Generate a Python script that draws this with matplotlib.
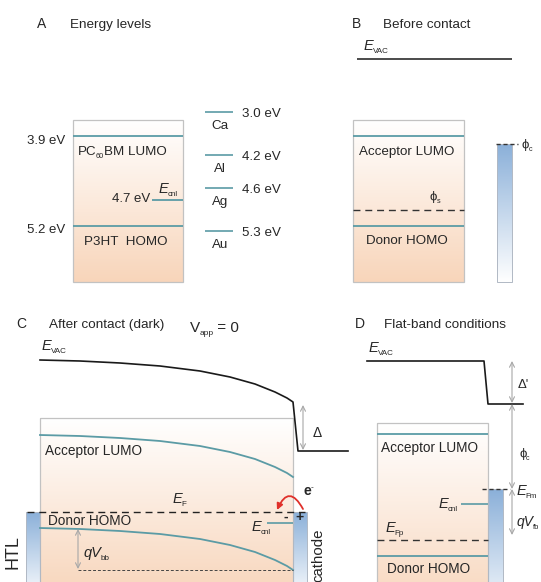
import numpy as np
import matplotlib.pyplot as plt
from matplotlib.patches import Rectangle, FancyArrowPatch
from matplotlib.colors import to_rgb

plt.rcParams['font.family'] = ['Liberation Sans', 'DejaVu Sans']

# ---- data ----
letters = ['A', 'B', 'C', 'D']
titles = ['Energy levels', 'Before contact', 'After contact (dark)', 'Flat-band conditions']
organic_E = [3.9, 5.2]            # PC60BM LUMO, P3HT HOMO (eV)
cnl_E = 4.7                       # charge neutrality level (eV)
metal_names = ['Ca', 'Al', 'Ag', 'Au']
metal_E = [3.0, 4.2, 4.6, 5.3]    # work functions (eV)
# band bending in panel C: distance from left of blend, downward shift (px)
bend_x = [0, 40, 80, 120, 160, 190, 215, 235, 247, 253]
bend_dy = [0, 1, 3, 6, 11, 17, 24, 32, 38, 42]

W, H = 541, 582
TEAL = '#5b9ba5'
PEACH = '#f8d5ba'
BLUE = '#8bb0d9'
EDGE = '#c2c2c2'
GREY = '#a8a8a8'
TXT = '#262626'
RED = '#e0302a'

fig = plt.figure(figsize=(W / 100, H / 100), dpi=100)
ax = fig.add_axes([0, 0, 1, 1])
ax.axis('off')
R = fig.canvas.get_renderer()


def ey(E):
    # schematic (not to scale) energy axis of panel A
    return np.interp(E, [3.0, 3.9, 4.2, 4.6, 4.7, 5.2, 5.3],
                     [112, 136, 155, 188, 200, 226, 231])


def grad(x0, x1, y0, y1, top, bot, edge=EDGE, lw=0.9):
    c = np.linspace(0, 1, 256)[:, None]
    a = np.array(to_rgb(top))
    b = np.array(to_rgb(bot))
    img = (a + (b - a) * c)[:, None, :]
    ax.imshow(img, extent=(x0, x1, y1, y0), aspect='auto',
              interpolation='bilinear', zorder=1)
    ax.add_patch(Rectangle((x0, y0), x1 - x0, y1 - y0, fill=False,
                           ec=edge, lw=lw, zorder=2))


def rich(x, y, parts, size=9.6, ha='left'):
    # parts: (text, kind) kind n=normal i=italic s=subscript p=superscript b=bold
    items = []
    for s, k in parts:
        kw = dict(fontsize=size, color=TXT, va='baseline')
        dy = 0
        gap = 0
        if k == 'i':
            kw['style'] = 'italic'
        if k == 'b':
            kw['weight'] = 'bold'
        if k == 's':
            kw['fontsize'] = size * 0.55
            dy = 3
            gap = -1
        if k == 'p':
            kw['fontsize'] = size * 0.6
            dy = -6
        t = ax.text(0, 0, s, zorder=6, **kw)
        items.append((t, dy, t.get_window_extent(R).width, gap))
    total = sum(w + g for _, _, w, g in items)
    cx = x - total if ha == 'right' else x
    for t, dy, w, g in items:
        cx += g
        t.set_position((cx, y + dy))
        cx += w


def hline(x0, x1, y, **kw):
    ax.plot([x0, x1], [y, y], solid_capstyle='butt', zorder=4, **kw)


def darrow(x, y0, y1):
    ax.annotate('', xy=(x, y1), xytext=(x, y0),
                arrowprops=dict(arrowstyle='<->', color=GREY, lw=0.8,
                                shrinkA=0, shrinkB=0, mutation_scale=9), zorder=5)


# ---- titles ----
for L, T, (xl, xt, yb) in zip(letters, titles,
                              [(37, 70, 28), (352, 383, 28), (16, 49, 328), (355, 384, 328)]):
    ax.text(xl, yb, L, fontsize=10, color=TXT, va='baseline')
    ax.text(xt, yb, T, fontsize=9.7, color=TXT, va='baseline')
rich(190, 332, [('V', 'n'), ('app', 's'), (' = 0', 'n')], size=11)

# ---- panel A ----
grad(73, 183, 120, 282, 'white', PEACH)
for E in organic_E:
    hline(73, 183, ey(E), color=TEAL, lw=1.3)
hline(152, 183, ey(cnl_E), color=TEAL, lw=1.3)
rich(65, ey(organic_E[0]) + 8, [(f'{organic_E[0]:.1f} eV', 'n')], size=9.5, ha='right')
rich(65, ey(organic_E[1]) + 7, [(f'{organic_E[1]:.1f} eV', 'n')], size=9.5, ha='right')
rich(150, ey(cnl_E) + 2, [(f'{cnl_E:.1f} eV', 'n')], size=9.5, ha='right')
rich(159, ey(cnl_E) - 7, [('E', 'i'), ('cnl', 's')], size=10.5)
rich(78, 155, [('PC', 'n'), ('60', 's'), ('BM LUMO', 'n')], size=9.6)
ax.text(84, 245, 'P3HT  HOMO', fontsize=9.6, color=TXT, va='baseline')
for name, E in zip(metal_names, metal_E):
    hline(205, 233, ey(E), color=TEAL, lw=1.2)
    ax.text(242, ey(E) + 5, f'{E:.1f} eV', fontsize=9.6, color=TXT, va='baseline')
    ax.text(220, ey(E) + 17, name, fontsize=9.6, color=TXT, va='baseline', ha='center')

# ---- panel B ----
rich(364, 50, [('E', 'i'), ('VAC', 's')], size=10.5)
hline(357, 512, 59, color='#1a1a1a', lw=1.1)
grad(353, 464, 120, 282, 'white', PEACH)
hline(353, 464, 136, color=TEAL, lw=1.3)
hline(353, 464, 226, color=TEAL, lw=1.3)
hline(353, 464, 210, color='#333333', lw=1.0, ls=(0, (5, 3.5)))
rich(430, 200, [('\u03d5', 'n'), ('s', 's')], size=9.5)
ax.text(359, 155, 'Acceptor LUMO', fontsize=9.6, color=TXT, va='baseline')
ax.text(366, 244, 'Donor HOMO', fontsize=9.6, color=TXT, va='baseline')
grad(497, 512, 144, 282, BLUE, 'white', edge='#b0b8c4', lw=0.7)
hline(496, 518, 144, color='#333333', lw=1.0, ls=(0, (3, 2)))
rich(522, 148, [('\u03d5', 'n'), ('c', 's')], size=9.5)

# ---- panel C ----
xs = 40 + np.array(bend_x)
dy = np.array(bend_dy)
grad(40, 293, 418, 640, 'white', '#f6cbaa')
ax.plot(list(xs) + [298, 348], list(360 + dy) + [451, 451], color='#1a1a1a', lw=1.2, zorder=4)
ax.plot(xs, 435 + dy, color=TEAL, lw=1.3, zorder=4)
ax.plot(xs, 528 + dy, color=TEAL, lw=1.3, zorder=4)
rich(42, 350, [('E', 'i'), ('VAC', 's')], size=10.5)
ax.text(45, 455, 'Acceptor LUMO', fontsize=9.8, color=TXT, va='baseline')
ax.text(48, 525, 'Donor HOMO', fontsize=9.8, color=TXT, va='baseline')
rich(173, 503, [('E', 'i'), ('F', 's')], size=10.5)
grad(26, 40, 512, 600, BLUE, 'white', edge='#b0b8c4', lw=0.7)
grad(293, 307, 512, 600, BLUE, 'white', edge='#b0b8c4', lw=0.7)
hline(27, 305, 512, color='#222222', lw=1.0, ls=(0, (5, 3.5)))
hline(78, 293, 570, color='#444444', lw=0.7, ls=(0, (3, 2)))
darrow(78, 529, 569)
rich(84, 557, [('qV', 'i'), ('bb', 's')], size=10.5)
ax.text(13, 552, 'HTL', fontsize=13, rotation=90, ha='center', va='center', color=TXT)
ax.text(318, 529, 'cathode', fontsize=10.8, rotation=90, ha='center', va='top', color=TXT)
hline(267, 293, 523, color=TEAL, lw=1.2)
rich(252, 531, [('E', 'i'), ('cnl', 's')], size=10.5)
ax.text(286, 521, '-', fontsize=10, ha='center', va='baseline', color=TXT, weight='bold', zorder=6)
ax.text(300, 521, '+', fontsize=10, ha='center', va='baseline', color=TXT, weight='bold', zorder=6)
ax.add_patch(FancyArrowPatch((303, 509), (277, 510), connectionstyle='arc3,rad=1.0',
                             arrowstyle='-|>', mutation_scale=9, color=RED, lw=1.3,
                             shrinkA=0, shrinkB=0, zorder=6))
rich(303, 495, [('e', 'b'), ('-', 'p')], size=10)
darrow(303, 405, 450)
ax.text(313, 437, '\u0394', fontsize=10, color=TXT, va='baseline')

# ---- panel D ----
rich(369, 352, [('E', 'i'), ('VAC', 's')], size=10.5)
ax.plot([367, 484, 488, 523], [361, 361, 404, 404], color='#1a1a1a', lw=1.2, zorder=4)
grad(377, 488, 423, 660, 'white', '#f6cbaa')
hline(377, 488, 434, color=TEAL, lw=1.3)
hline(377, 488, 556, color=TEAL, lw=1.3)
hline(377, 488, 540, color='#333333', lw=1.0, ls=(0, (5, 3.5)))
ax.text(381, 452, 'Acceptor LUMO', fontsize=9.8, color=TXT, va='baseline')
ax.text(387, 573, 'Donor HOMO', fontsize=9.8, color=TXT, va='baseline')
grad(488, 503, 489, 620, BLUE, 'white', edge='#b0b8c4', lw=0.7)
hline(482, 510, 489, color='#333333', lw=1.0, ls=(0, (3, 2)))
hline(461, 488, 504, color=TEAL, lw=1.2)
rich(439, 508, [('E', 'i'), ('cnl', 's')], size=10.5)
rich(386, 532, [('E', 'i'), ('Fp', 's')], size=10.5)
darrow(512, 361, 403)
darrow(512, 404, 489)
darrow(512, 489, 535)
ax.text(518, 388, "\u0394'", fontsize=9.5, color=TXT, va='baseline')
rich(519, 457, [('\u03d5', 'n'), ('c', 's')], size=9.5)
rich(517, 495, [('E', 'i'), ('Fm', 's')], size=10.5)
rich(517, 526, [('qV', 'i'), ('fb', 's')], size=10)

ax.set_xlim(0, W)
ax.set_ylim(H, 0)
fig.savefig('out.png', dpi=100)
